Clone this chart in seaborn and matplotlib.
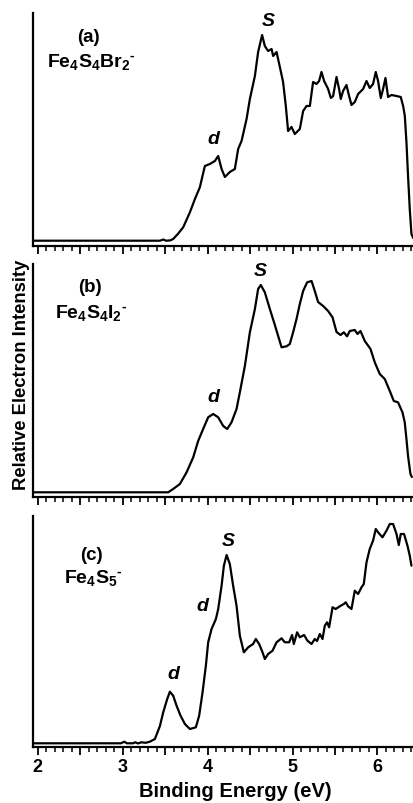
import matplotlib
matplotlib.use("Agg")
import matplotlib.pyplot as plt
import pandas as pd
import seaborn as sns
from matplotlib.ticker import MultipleLocator, FuncFormatter

# ---- photoelectron spectra (binding energy in eV, relative intensity) ----
a_energy = [1.95, 3.44, 3.48, 3.51, 3.56, 3.595, 3.65, 3.713, 3.792, 3.851, 3.909,
            3.968, 4.027, 4.086, 4.125, 4.165, 4.204, 4.262, 4.321, 4.360, 4.400,
            4.459, 4.498, 4.557, 4.595, 4.642, 4.674, 4.713, 4.753, 4.772, 4.812,
            4.851, 4.889, 4.921, 4.948, 4.988, 5.027, 5.086, 5.125, 5.165, 5.204,
            5.242, 5.282, 5.313, 5.341, 5.372, 5.419, 5.451, 5.478, 5.518, 5.548,
            5.568, 5.595, 5.635, 5.666, 5.694, 5.733, 5.772, 5.831, 5.871, 5.909,
            5.948, 5.980, 6.007, 6.039, 6.066, 6.094, 6.125, 6.165, 6.224, 6.274,
            6.302, 6.322, 6.341, 6.360, 6.380, 6.400, 6.420]
a_intensity = [5.3, 5.3, 6.5, 5.3, 5.6, 7, 12, 18.7, 33.7, 47, 58.7,
               80, 82, 85, 90, 77, 69, 74, 77, 97, 105,
               127, 147, 170, 194, 211, 200, 195, 197, 190, 194,
               179, 164, 140, 115, 119, 112, 117, 135, 140, 140,
               164, 162, 165, 174, 165, 157, 148, 150, 169, 157,
               147, 155, 161, 150, 141, 144, 152, 157, 165, 158,
               162, 174, 165, 148, 157, 168, 149, 151, 150, 149,
               140, 130, 104, 70, 37, 12, 8]

b_energy = [1.95, 3.536, 3.595, 3.674, 3.753, 3.831, 3.889, 3.948, 4.007, 4.066,
            4.125, 4.184, 4.231, 4.282, 4.341, 4.380, 4.439, 4.498, 4.557, 4.595,
            4.627, 4.674, 4.733, 4.792, 4.831, 4.871, 4.929, 4.968, 5.007, 5.047,
            5.086, 5.125, 5.172, 5.224, 5.262, 5.301, 5.360, 5.419, 5.471, 5.518,
            5.565, 5.604, 5.642, 5.674, 5.733, 5.765, 5.800, 5.851, 5.918, 5.968,
            6.027, 6.086, 6.145, 6.192, 6.242, 6.294, 6.321, 6.341, 6.360, 6.388,
            6.405]
b_intensity = [4.7, 4.7, 8, 13, 24.7, 39.7, 56, 68, 79.7, 83,
               79.7, 71, 68, 74.7, 88, 104.7, 131, 164.7, 188, 208,
               212, 204.7, 188, 172, 161, 149.7, 150.7, 153, 164.7, 178,
               193, 206, 214.7, 216, 206, 195, 191, 186, 179.7, 165,
               162, 164.7, 160.7, 166, 167, 163, 166, 156, 148, 134.7,
               123, 118, 106, 96, 94.7, 84.7, 74.7, 58, 41, 23,
               20]

c_energy = [1.95, 2.98, 3.02, 3.05, 3.12, 3.15, 3.18, 3.22, 3.27, 3.321,
            3.380, 3.439, 3.478, 3.525, 3.556, 3.595, 3.635, 3.682, 3.733, 3.792,
            3.862, 3.901, 3.941, 3.980, 4.007, 4.047, 4.098, 4.125, 4.165, 4.192,
            4.224, 4.262, 4.301, 4.341, 4.380, 4.427, 4.478, 4.536, 4.568, 4.607,
            4.647, 4.674, 4.713, 4.765, 4.812, 4.871, 4.909, 4.960, 4.995, 5.015,
            5.054, 5.086, 5.136, 5.176, 5.224, 5.262, 5.289, 5.321, 5.353, 5.380,
            5.407, 5.431, 5.471, 5.509, 5.556, 5.604, 5.627, 5.654, 5.694, 5.733,
            5.772, 5.812, 5.839, 5.871, 5.909, 5.948, 5.980, 6.007, 6.059, 6.106,
            6.145, 6.184, 6.224, 6.251, 6.274, 6.313, 6.353, 6.380, 6.400]
c_intensity = [3.7, 3.7, 5.3, 3.7, 3.7, 4.7, 3.5, 4.7, 4.2, 5.3,
               8, 21, 34.7, 48, 55.3, 51.3, 41.3, 31.3, 23, 18,
               19.7, 31.3, 54.7, 81.3, 104.7, 118, 128, 138, 161.3, 181.3,
               192, 183, 161.3, 141.3, 111.3, 94.7, 99.7, 103, 108, 103,
               94.7, 88, 93, 96.3, 104.7, 108.7, 104.7, 104.7, 112, 103,
               114.7, 109.7, 112, 106.3, 103, 108, 106, 113, 108, 121.3,
               124.7, 119.7, 139.7, 138, 140.7, 143, 144.7, 140.7, 138, 156.3,
               153, 159.7, 163, 184.7, 198, 206.3, 218, 214.7, 209.7, 216.3,
               223, 223, 213, 202, 213, 213, 201.3, 191.3, 181.3]

panel_tags = ["(a)", "(b)", "(c)"]
species = [r"Fe$_4$S$_4$Br$_2$$^{\text{-}}$", r"Fe$_4$S$_4$I$_2$$^{\text{-}}$",
           r"Fe$_4$S$_5$$^{\text{-}}$"]
x_ticks = [2, 3, 4, 5, 6]
x_label = "Binding Energy (eV)"
y_label = "Relative Electron Intensity"

sns.set_style("ticks")
plt.rcParams["font.family"] = ["Liberation Sans", "DejaVu Sans"]
plt.rcParams["font.weight"] = "bold"
plt.rcParams["mathtext.fontset"] = "custom"
plt.rcParams["mathtext.rm"] = "Liberation Sans:bold"
plt.rcParams["mathtext.bf"] = "Liberation Sans:bold"
plt.rcParams["mathtext.default"] = "bf"
for key in ["text.color", "axes.labelcolor", "xtick.color", "ytick.color",
            "axes.edgecolor"]:
    plt.rcParams[key] = "black"

fig = plt.figure(figsize=(4.14, 8.04), dpi=100)
W, H = 414, 804

# axes boxes: (top_px, bottom_px)
boxes = [(14, 247), (265, 498), (517, 748)]
left_px = 33

spectra = [(a_energy, a_intensity), (b_energy, b_intensity), (c_energy, c_intensity)]

# annotation placements (energy, intensity) for each panel
tag_pos = [(2.60, 210), (2.61, 211), (2.63, 193)]
species_pos = [(2.105, 185), (2.20, 185), (2.31, 170)]
peak_labels = [
    [("S", 4.72, 226), ("d", 4.07, 107)],
    [("S", 4.62, 226), ("d", 4.07, 101)],
    [("S", 4.24, 207), ("d", 3.94, 141), ("d", 3.595, 73)],
]

axes = []
for i, ((top, bot), (en, inten)) in enumerate(zip(boxes, spectra)):
    ax = fig.add_axes([left_px / W, 1 - bot / H, 1 - left_px / W, (bot - top) / H])
    axes.append(ax)
    df = pd.DataFrame({"energy": en, "intensity": inten})
    sns.lineplot(data=df, x="energy", y="intensity", ax=ax, color="black",
                 linewidth=1.6, sort=False)
    ax.set_xlim(1.945, 6.43)
    ax.set_ylim(0, bot - top)
    ax.set_xlabel("")
    ax.set_ylabel("")
    ax.set_yticks([])
    for s in ["top", "right"]:
        ax.spines[s].set_visible(False)
    for s in ["left", "bottom"]:
        ax.spines[s].set_linewidth(1.6)
        ax.spines[s].set_color("black")
    ax.xaxis.set_major_locator(MultipleLocator(0.5))
    ax.xaxis.set_minor_locator(MultipleLocator(0.1))
    ax.tick_params(axis="x", which="major", length=6, width=1.3, direction="out",
                   labelsize=13, pad=2, colors="black")
    ax.tick_params(axis="x", which="minor", length=3.5, width=1.1, direction="out",
                   colors="black")
    if i < 2:
        ax.tick_params(axis="x", labelbottom=False)
    else:
        ax.xaxis.set_major_formatter(FuncFormatter(
            lambda v, p: f"{int(round(v))}" if abs(v - round(v)) < 1e-6 and int(round(v)) in x_ticks else ""))
    ax.text(*tag_pos[i], panel_tags[i], ha="center", va="center", fontsize=13.5,
            fontweight="bold")
    ax.text(*species_pos[i], species[i], ha="left", va="center", fontsize=14,
            fontweight="bold")
    for lab, ex, ey in peak_labels[i]:
        ax.text(ex, ey, lab, ha="center", va="center", fontsize=14,
                fontweight="bold", fontstyle="italic")

fig.text(22 / W, 1 - 375 / H, y_label, rotation=90, ha="center", va="center",
         fontsize=13.3, fontweight="bold")
fig.text(235 / W, 1 - 792 / H, x_label, ha="center", va="center",
         fontsize=14.5, fontweight="bold")

fig.savefig("out.png", dpi=100)
